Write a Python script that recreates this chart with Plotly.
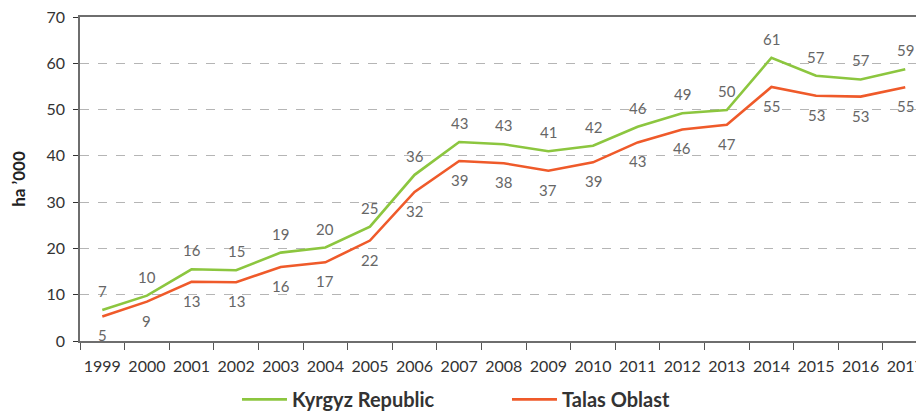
import plotly.graph_objects as go

years = [str(y) for y in range(1999, 2018)]
kyrgyz = [6.7, 9.8, 15.5, 15.3, 19.1, 20.2, 24.7, 35.9, 43.0, 42.5, 41.0, 42.2,
          46.3, 49.2, 49.9, 61.2, 57.3, 56.5, 58.7]
talas = [5.3, 8.5, 12.8, 12.7, 16.0, 17.0, 21.7, 32.2, 38.9, 38.4, 36.8, 38.6,
         42.9, 45.7, 46.7, 54.9, 53.0, 52.8, 54.8]
kyrgyz_lbl = [7, 10, 16, 15, 19, 20, 25, 36, 43, 43, 41, 42, 46, 49, 50, 61, 57, 57, 59]
talas_lbl = [5, 9, 13, 13, 16, 17, 22, 32, 39, 38, 37, 39, 43, 46, 47, 55, 53, 53, 55]

GREEN = "#8cc63f"
RED = "#ef5a2a"
FONT = "Lato"

fig = go.Figure()
fig.add_trace(go.Scatter(x=years, y=kyrgyz, mode="lines", name="Kyrgyz Republic",
                         line=dict(color=GREEN, width=2.6)))
fig.add_trace(go.Scatter(x=years, y=talas, mode="lines", name="Talas Oblast",
                         line=dict(color=RED, width=2.6)))

# value labels: green above, red below (x given as category index)
for i, (v, t) in enumerate(zip(kyrgyz, kyrgyz_lbl)):
    fig.add_annotation(x=i, y=v, text=str(t), showarrow=False, yshift=19,
                       font=dict(family=FONT, size=15, color="#666666"))
for i, (v, t) in enumerate(zip(talas, talas_lbl)):
    fig.add_annotation(x=i, y=v, text=str(t), showarrow=False, yshift=-19,
                       font=dict(family=FONT, size=15, color="#666666"))

fig.update_xaxes(
    type="category", range=[-0.5, 18.42], automargin=False,
    showline=True, mirror=True, linecolor="#6e6e6e", linewidth=1.5,
    ticks="outside", tickson="boundaries", ticklen=7, tickcolor="#555555",
    ticklabelstandoff=10, tickangle=0, showgrid=False, ticklabeloverflow="allow",
    tickfont=dict(family=FONT, size=16, color="#333333"),
)
fig.update_yaxes(
    range=[0, 70], dtick=10, automargin=False,
    showline=True, linecolor="#6e6e6e", linewidth=1.5,
    ticks="outside", ticklen=5, tickcolor="#333333", ticklabelstandoff=5,
    ticklabeloverflow="allow",
    showgrid=True, gridcolor="#b5b5b5", griddash="dash", gridwidth=1,
    zeroline=False,
    tickfont=dict(family=FONT, size=16, color="#333333"),
    title=dict(text="<b>ha ’000</b>", standoff=20,
               font=dict(family=FONT, size=17, color="#222222")),
)

# page body has an 8px margin, so the figure margins are shifted to compensate
fig.update_layout(
    width=924, height=412,
    margin=dict(l=72, r=8, t=9, b=79),
    plot_bgcolor="white", paper_bgcolor="white",
    font=dict(family=FONT),
    legend=dict(orientation="h", x=0.186, xanchor="left",
                yref="container", y=0.05, yanchor="middle",
                itemwidth=45, entrywidth=210, entrywidthmode="pixels",
                font=dict(family=FONT, size=20, color="#333333", weight="bold")),
)

fig.write_html("out.html")
